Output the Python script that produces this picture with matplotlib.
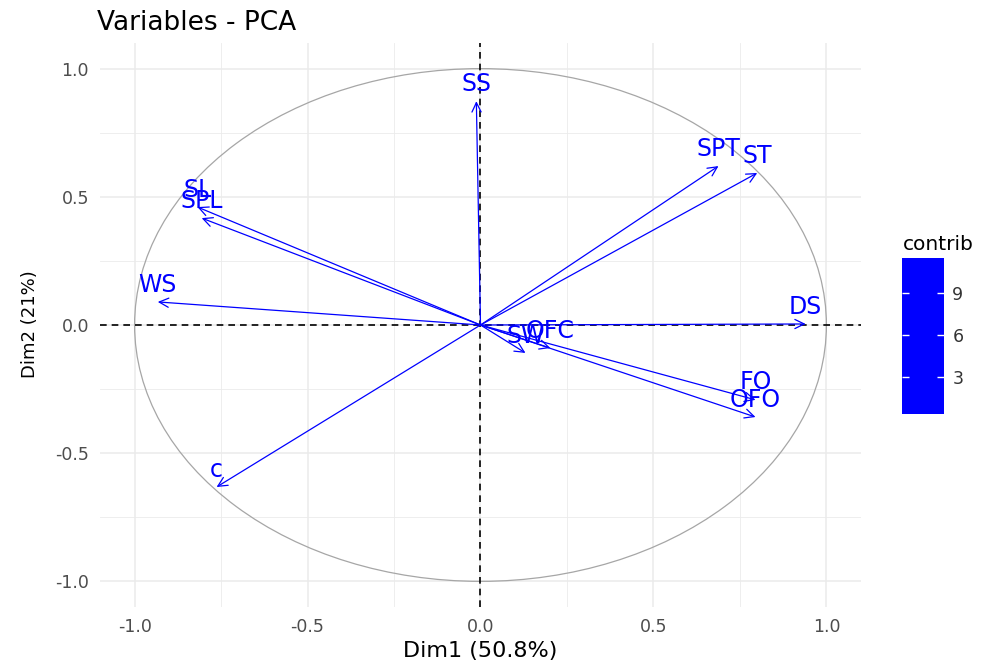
import numpy as np
import matplotlib
matplotlib.use("Agg")
import matplotlib.pyplot as plt
from matplotlib.colors import ListedColormap, Normalize
from matplotlib.patches import Ellipse
import matplotlib.cm as cm

# ---- data ----
variables = ["SS", "SPT", "ST", "SL", "SPL", "WS", "DS", "SW", "OFC", "FO", "OFO", "c"]
dim1 = [-0.012, 0.688, 0.800, -0.818, -0.806, -0.933, 0.940, 0.130, 0.202, 0.795, 0.795, -0.763]
dim2 = [0.873, 0.620, 0.593, 0.460, 0.417, 0.090, 0.004, -0.109, -0.090, -0.292, -0.359, -0.632]
contrib = [8.8, 9.9, 11.5, 10.2, 9.6, 10.2, 10.3, 0.35, 0.57, 7.8, 8.9, 11.4]
xticks = [-1.0, -0.5, 0.0, 0.5, 1.0]
yticks = [-1.0, -0.5, 0.0, 0.5, 1.0]
cbar_ticks = [3, 6, 9]
title = "Variables - PCA"
xlabel = "Dim1 (50.8%)"
ylabel = "Dim2 (21%)"

W, H = 987, 666
fig = plt.figure(figsize=(W / 100, H / 100), dpi=100)
fig.patch.set_facecolor("white")

ax = fig.add_axes([100 / W, 1 - 607 / H, 761 / W, 564 / H])
ax.set_xlim(-1.1, 1.1)
ax.set_ylim(-1.1, 1.1)
for s in ax.spines.values():
    s.set_visible(False)

# grid
minor = [-0.75, -0.25, 0.25, 0.75]
for v in minor:
    ax.axvline(v, color="#EBEBEB", lw=0.6, zorder=0)
    ax.axhline(v, color="#EBEBEB", lw=0.6, zorder=0)
for v in xticks:
    ax.axvline(v, color="#EBEBEB", lw=1.1, zorder=0)
for v in yticks:
    ax.axhline(v, color="#EBEBEB", lw=1.1, zorder=0)

ax.set_xticks(xticks)
ax.set_yticks(yticks)
ax.set_xticklabels([f"{t:.1f}" for t in xticks])
ax.set_yticklabels([f"{t:.1f}" for t in yticks])
ax.tick_params(length=0, labelsize=12.5, labelcolor="#4D4D4D", pad=8)

# correlation circle
ax.add_patch(Ellipse((0, 0), 2, 2, fill=False, ec="#A6A6A6", lw=0.9, zorder=1))

# reference lines
ax.axhline(0, color="black", ls=(0, (4, 3)), lw=1.2, zorder=2)
ax.axvline(0, color="black", ls=(0, (4, 3)), lw=1.2, zorder=2)

# arrows and labels
cmap = ListedColormap(["#0000FF"])
norm = Normalize(vmin=min(contrib), vmax=max(contrib))
for name, x, y, c in zip(variables, dim1, dim2, contrib):
    col = cmap(norm(c))
    ax.annotate("", xy=(x, y), xytext=(0, 0),
                arrowprops=dict(arrowstyle="->,head_length=0.45,head_width=0.22",
                                color=col, lw=0.9, shrinkA=0, shrinkB=0,
                                mutation_scale=15), zorder=3)
    ax.annotate(name, xy=(x, y), xytext=(0, 12.5), textcoords="offset points",
                ha="center", va="center", color=col, fontsize=17, zorder=4)

# titles
fig.text(97 / W, 1 - 30 / H, title, fontsize=19, color="black", ha="left", va="baseline")
fig.text(480 / W, 1 - 657 / H, xlabel, fontsize=16, color="black", ha="center", va="baseline")
fig.text(30 / W, 1 - 324 / H, ylabel, fontsize=13, color="black", ha="center", va="center",
         rotation=90)

# colour bar
cax = fig.add_axes([902 / W, 1 - 414 / H, 42 / W, 156 / H])
sm = cm.ScalarMappable(norm=norm, cmap=cmap)
cb = fig.colorbar(sm, cax=cax, ticks=cbar_ticks)
cb.outline.set_visible(False)
cax.tick_params(direction="in", color="white", length=5, width=1, left=True, right=True,
                labelsize=12.5, labelcolor="#333333", pad=6)
cax.yaxis.set_ticks_position("both")
cax.yaxis.set_label_position("right")
fig.text(903 / W, 1 - 250 / H, "contrib", fontsize=14.5, color="black", ha="left", va="baseline")

fig.savefig("out.png", dpi=100, facecolor="white")
